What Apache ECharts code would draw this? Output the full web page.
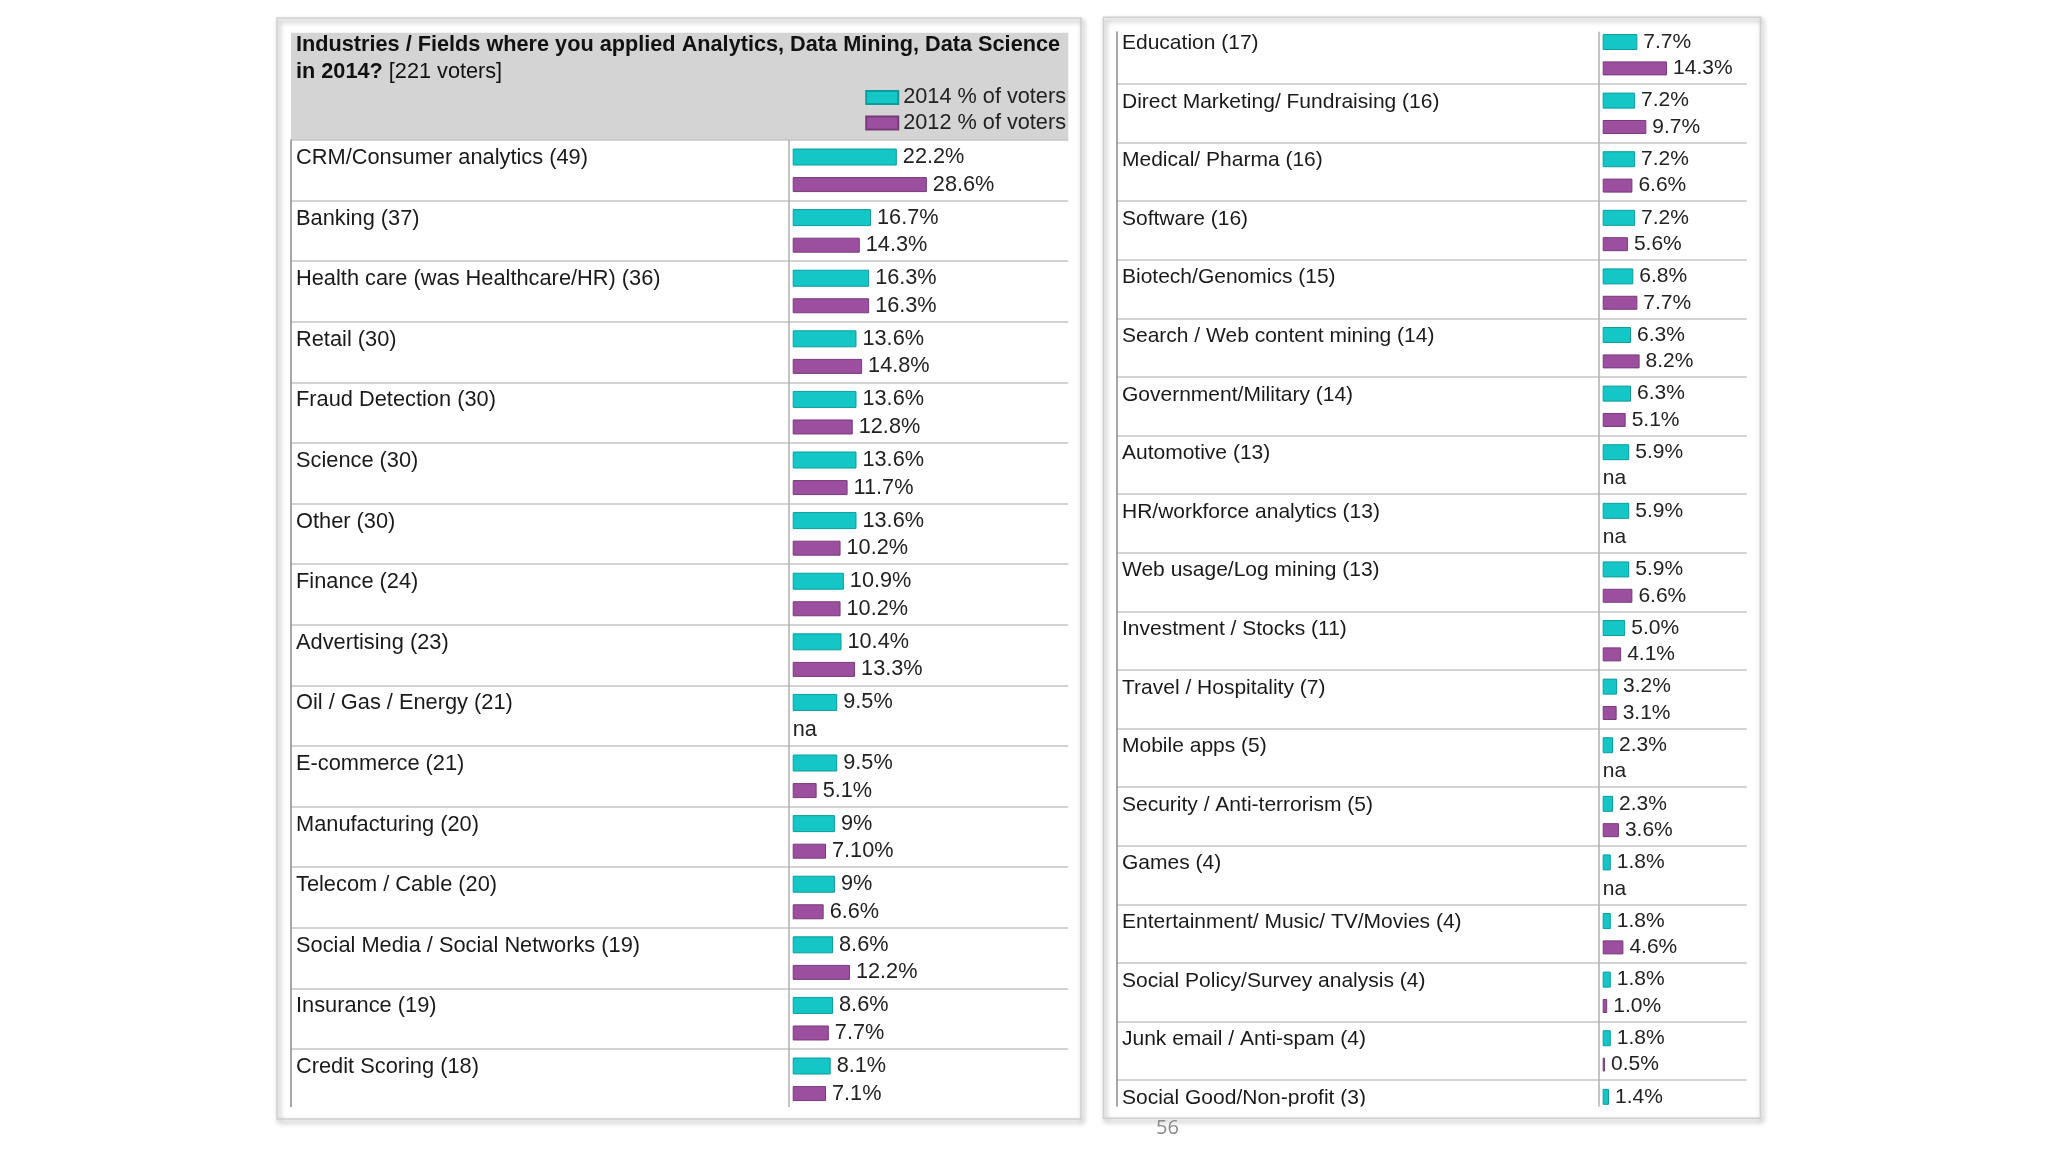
<!DOCTYPE html>
<html><head><meta charset="utf-8">
<script src="https://cdn.jsdelivr.net/npm/echarts@6/dist/echarts.min.js"></script>
<style>html,body{margin:0;padding:0;background:#fff}#c{width:2048px;height:1152px}</style>
</head><body><div id="c"></div>
<script>
const titleLine1 = 'Industries / Fields where you applied Analytics, Data Mining, Data Science';
const titleLine2Bold = 'in 2014?';
const titleLine2 = '[221 voters]';
const legendNames = ['2014 % of voters', '2012 % of voters'];
const pageNumber = '56';

const leftCategories = [
  'CRM/Consumer analytics (49)', 'Banking (37)', 'Health care (was Healthcare/HR) (36)',
  'Retail (30)', 'Fraud Detection (30)', 'Science (30)', 'Other (30)', 'Finance (24)',
  'Advertising (23)', 'Oil / Gas / Energy (21)', 'E-commerce (21)', 'Manufacturing (20)',
  'Telecom / Cable (20)', 'Social Media / Social Networks (19)', 'Insurance (19)', 'Credit Scoring (18)'
];
const left2014 = ['22.2','16.7','16.3','13.6','13.6','13.6','13.6','10.9','10.4','9.5','9.5','9','9','8.6','8.6','8.1'];
const left2012 = ['28.6','14.3','16.3','14.8','12.8','11.7','10.2','10.2','13.3','na','5.1','7.10','6.6','12.2','7.7','7.1'];

const rightCategories = [
  'Education (17)', 'Direct Marketing/ Fundraising (16)', 'Medical/ Pharma (16)', 'Software (16)',
  'Biotech/Genomics (15)', 'Search / Web content mining (14)', 'Government/Military (14)',
  'Automotive (13)', 'HR/workforce analytics (13)', 'Web usage/Log mining (13)',
  'Investment / Stocks (11)', 'Travel / Hospitality (7)', 'Mobile apps (5)',
  'Security / Anti-terrorism (5)', 'Games (4)', 'Entertainment/ Music/ TV/Movies (4)',
  'Social Policy/Survey analysis (4)', 'Junk email / Anti-spam (4)', 'Social Good/Non-profit (3)'
];
const right2014 = ['7.7','7.2','7.2','7.2','6.8','6.3','6.3','5.9','5.9','5.9','5.0','3.2','2.3','2.3','1.8','1.8','1.8','1.8','1.4'];
const right2012 = ['14.3','9.7','6.6','5.6','7.7','8.2','5.1','na','na','6.6','4.1','3.1','na','3.6','na','4.6','1.0','0.5',null];

const FONT = "'Liberation Sans', Arial, Helvetica, sans-serif";
const CYAN = '#14c6c6', CYAN_B = '#0b9c9c';
const PURP = '#9d4f9f', PURP_B = '#773a79';

function toData(arr) {
  return arr.map(s => s === null ? null : (s === 'na'
    ? { value: 0, itemStyle: { borderWidth: 0 }, label: { distance: 0 } }
    : Number(s)));
}
function labelFor(arr) {
  return p => { const s = arr[p.dataIndex]; return s === 'na' ? 'na' : s + '%'; };
}

function catAxis(grid, cats, fs, lh) {
  return {
    type: 'category', gridIndex: grid, data: cats, inverse: true,
    axisLine: { show: true, onZero: false, lineStyle: { color: '#8a8a8a', width: 1.5 } },
    axisTick: { show: false },
    splitLine: { show: true, interval: 0, lineStyle: { color: '#c4c4c4', width: 1.5 } },
    axisLabel: {
      inside: true, align: 'left', margin: 5, interval: 0, fontSize: fs, fontFamily: FONT,
      color: '#1a1a1a', lineHeight: lh, formatter: v => v + '\n '
    }
  };
}

function barSeries(name, gi, arr, color, border, width, gap, fs) {
  return {
    name: name, type: 'bar', xAxisIndex: gi, yAxisIndex: gi,
    data: toData(arr), barWidth: width, barGap: gap,
    itemStyle: { color: color, borderColor: border, borderWidth: 1 },
    label: {
      show: true, position: 'right', distance: 6, formatter: labelFor(arr),
      fontSize: fs, fontFamily: FONT, color: '#222'
    },
    emphasis: { disabled: true }, animation: false
  };
}

const chart = echarts.init(document.getElementById('c'));
const option = {
  backgroundColor: '#ffffff',
  animation: false,
  title: {
    left: 296, top: 31.5, padding: 0,
    text: '{b|' + titleLine1 + '}\n{b|' + titleLine2Bold + '} {n|' + titleLine2 + '}',
    textStyle: {
      fontSize: 21.7, fontFamily: FONT, lineHeight: 26.7, color: '#111', fontWeight: 'normal',
      rich: {
        b: { fontSize: 21.7, fontFamily: FONT, fontWeight: 'bold', lineHeight: 26.7, color: '#111' },
        n: { fontSize: 21.7, fontFamily: FONT, fontWeight: 'normal', lineHeight: 26.7, color: '#111' }
      }
    }
  },
  legend: {
    data: legendNames, orient: 'vertical', right: 982, top: 86.5, padding: 0,
    icon: 'rect', itemWidth: 32, itemHeight: 13, itemGap: 3.5,
    textStyle: { fontSize: 21.7, fontFamily: FONT, color: '#222', lineHeight: 22 },
    selectedMode: false
  },
  grid: [
    { left: 291, top: 140, width: 777.3, height: 969.6 },
    { left: 1117, top: 25.4, width: 629.7, height: 1113.4 }
  ],
  xAxis: [
    { type: 'value', gridIndex: 0, min: -106.97, max: 58.76, show: false },
    { type: 'value', gridIndex: 1, min: -107.93, max: 32.0, show: false }
  ],
  yAxis: [
    catAxis(0, leftCategories, 21.8, 24.5),
    catAxis(1, rightCategories, 21, 23)
  ],
  series: [
    barSeries(legendNames[0], 0, left2014, CYAN, CYAN_B, 17, '68%', 21.7),
    barSeries(legendNames[1], 0, left2012, PURP, PURP_B, 15, '68%', 21.7),
    barSeries(legendNames[0], 1, right2014, CYAN, CYAN_B, 16, '71%', 21),
    barSeries(legendNames[1], 1, right2012, PURP, PURP_B, 14, '71%', 21)
  ],
  graphic: [
    { type: 'rect', z: -1, shape: { x: 277, y: 18, width: 804, height: 1101 }, style: { fill: '#fff' } },
    { type: 'rect', z: -1, shape: { x: 1103.5, y: 17.3, width: 657, height: 1101 }, style: { fill: '#fff' } },
    { type: 'rect', z: -1, z2: 5, shape: { x: 291, y: 32.7, width: 777.3, height: 107.3 }, style: { fill: '#d4d4d4' } },
    { type: 'line', z: 1, shape: { x1: 789, y1: 140, x2: 789, y2: 1107 }, style: { stroke: '#b0b0b0', lineWidth: 1.5 } },
    { type: 'line', z: 1, shape: { x1: 1599, y1: 31.5, x2: 1599, y2: 1107 }, style: { stroke: '#b0b0b0', lineWidth: 1.5 } },
    { type: 'rect', z: 99, shape: { x: 278.5, y: 1107, width: 801, height: 11 }, style: { fill: '#fff' } },
    { type: 'rect', z: 99, shape: { x: 1104.5, y: 1106.5, width: 655, height: 46 }, style: { fill: '#fff' } },
    { type: 'rect', z: 99, shape: { x: 1104.5, y: 0, width: 655, height: 31.5 }, style: { fill: '#fff' } },
    { type: 'rect', z: 101, shape: { x: 277, y: 18, width: 804, height: 1101 },
      style: { fill: 'none', stroke: '#cfcfcf', lineWidth: 1.5, shadowBlur: 5, shadowOffsetX: 2, shadowOffsetY: 3, shadowColor: 'rgba(0,0,0,0.45)' } },
    { type: 'rect', z: 101, shape: { x: 1103.5, y: 17.3, width: 657, height: 1101 },
      style: { fill: 'none', stroke: '#cfcfcf', lineWidth: 1.5, shadowBlur: 5, shadowOffsetX: 2, shadowOffsetY: 3, shadowColor: 'rgba(0,0,0,0.45)' } },
    { type: 'text', z: 102, style: { text: pageNumber, x: 1156, y: 1128, verticalAlign: 'middle', fontSize: 20, fontFamily: "'Open Sans', 'Noto Sans', sans-serif", fill: '#8a8a8a' } }
  ]
};
chart.setOption(option);
</script>
</body></html>
